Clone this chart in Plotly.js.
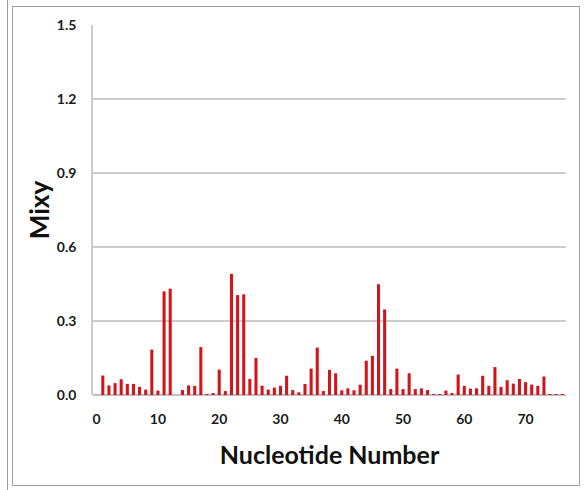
<!DOCTYPE html>
<html>
<head>
<meta charset="utf-8">
<script src="https://cdn.plot.ly/plotly-3.0.1.min.js"></script>
<style>
  html, body { margin: 0; padding: 0; background: #fff; }
  #wrap { position: relative; width: 587px; height: 490px; }
  #frameL { position: absolute; left: 7px; top: 0; width: 0; height: 490px; border-left: 1px solid #9a9a9a; }
  #frame { position: absolute; left: 12px; top: 6px; width: 568px; height: 480px; border: 1px solid #a0a0a0; box-sizing: border-box; }
  #chart { position: absolute; left: 0; top: 0; width: 587px; height: 490px; }
</style>
</head>
<body>
<div id="wrap">
  <div id="frameL"></div>
  <div id="frame"></div>
  <div id="chart"></div>
</div>
<script>
const nucleotide = [];
for (let i = 1; i <= 76; i++) nucleotide.push(i);

const mixy = [
  0.079, 0.039, 0.048, 0.064, 0.045, 0.045, 0.033, 0.022, 0.184, 0.018,
  0.420, 0.431, 0.000, 0.020, 0.039, 0.037, 0.194, 0.004, 0.005, 0.103,
  0.016, 0.491, 0.405, 0.408, 0.065, 0.150, 0.038, 0.022, 0.030, 0.037,
  0.078, 0.020, 0.011, 0.045, 0.107, 0.192, 0.016, 0.102, 0.088, 0.019,
  0.027, 0.019, 0.042, 0.139, 0.159, 0.449, 0.347, 0.024, 0.107, 0.024,
  0.088, 0.024, 0.027, 0.020, 0.003, 0.003, 0.018, 0.006, 0.083, 0.037,
  0.026, 0.027, 0.078, 0.037, 0.113, 0.033, 0.060, 0.046, 0.065, 0.052,
  0.042, 0.037, 0.075, 0.003, 0.003, 0.003
];

const xTickVals = [0, 10, 20, 30, 40, 50, 60, 70];
const yTickVals = [0, 0.3, 0.6, 0.9, 1.2, 1.5];
const yTickText = ['0.0', '0.3', '0.6', '0.9', '1.2', '1.5'];

const trace = {
  type: 'bar',
  x: nucleotide,
  y: mixy,
  marker: { color: '#d4141c', line: { width: 0 } },
  hoverinfo: 'x+y'
};

const tickFont = { family: 'Lato, "Open Sans", sans-serif', size: 14, color: '#1a1a1a', weight: 'bold' };
const titleFont = { family: 'Lato, "Open Sans", sans-serif', size: 25, color: '#111', weight: 'bold' };

const layout = {
  width: 587,
  height: 490,
  margin: { l: 93, r: 21, t: 25, b: 95 },
  paper_bgcolor: 'rgba(0,0,0,0)',
  plot_bgcolor: 'rgba(0,0,0,0)',
  bargap: 0.5,
  showlegend: false,
  xaxis: {
    range: [-0.6, 76.6],
    tickmode: 'array',
    tickvals: xTickVals,
    ticks: '',
    showgrid: false,
    zeroline: false,
    showline: false,
    tickfont: tickFont,
    ticklabelstandoff: 14,
    title: { text: 'Nucleotide Number', font: titleFont, standoff: 20 }
  },
  yaxis: {
    range: [0, 1.5],
    tickmode: 'array',
    tickvals: yTickVals,
    ticktext: yTickText,
    ticks: '',
    showgrid: true,
    gridcolor: '#cccccc',
    gridwidth: 1.5,
    zeroline: true,
    zerolinecolor: '#c0c0c0',
    zerolinewidth: 1.5,
    showline: true,
    linecolor: '#cccccc',
    linewidth: 1.5,
    tickfont: tickFont,
    ticklabelstandoff: 12,
    title: { text: 'Mixy', font: { family: 'Lato, "Open Sans", sans-serif', size: 26, color: '#111', weight: 'bold' }, standoff: 0 }
  }
};

Plotly.newPlot('chart', [trace], layout, { displayModeBar: false });
</script>
</body>
</html>
